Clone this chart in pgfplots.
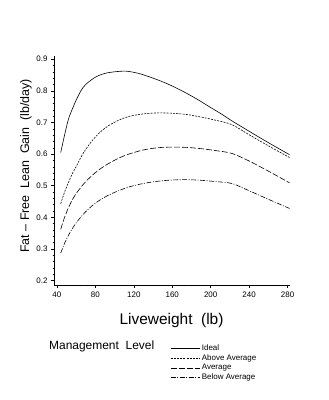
\documentclass[border=0pt]{standalone}
\usepackage{fontspec}
\setmainfont{Liberation Sans}
\usepackage{pgfplots}
\pgfplotsset{compat=1.18}
\begin{document}
\begin{tikzpicture}
\path[use as bounding box] (0,0) rectangle (329bp,400bp);
\begin{axis}[
 at={(54bp,115bp)}, anchor=south west,
 scale only axis, width=236bp, height=229bp,
 xmin=37, xmax=282.5, ymin=0.186, ymax=0.91,
 axis x line*=bottom, axis y line*=left,
 axis line style={line width=0.5pt},
 xtick={40,80,120,160,200,240,280},
 ytick={0.2,0.3,0.4,0.5,0.6,0.7,0.8,0.9},
 minor x tick num=9, minor y tick num=4,
 tick align=outside, major tick length=3bp, minor tick length=1.5bp,
 tick style={black, line width=0.4pt},
 ticklabel style={font=\fontsize{8}{9}\selectfont},
 /pgf/number format/assume math mode=true,
 yticklabel style={/pgf/number format/.cd, fixed, fixed zerofill, precision=1},
 xlabel={Liveweight\ \ (lb)},
 ylabel={Fat -- Free\ \ Lean\ \ Gain\ \ (lb/day)},
 xlabel style={font=\fontsize{15.5}{17}\selectfont, at={(axis description cs:0.498,-0.157)}, anchor=center},
 ylabel style={font=\fontsize{12.5}{14}\selectfont, at={(axis description cs:-0.08,0.52)}, rotate=0, anchor=south},
 legend style={at={(axis description cs:0.492,-0.252)}, anchor=north west, draw=none, fill=none, inner sep=0pt, font=\fontsize{8}{9}\selectfont, row sep=-1.5bp, cells={anchor=west}},
 legend image code/.code={\draw[#1] (0bp,0bp) -- (29bp,0bp);},
 every axis plot/.append style={black, line width=0.6pt},
]
\addplot[smooth, tension=0.5] coordinates {(44,0.605)(48,0.66)(52,0.71)(56,0.742)(60,0.77)(65,0.80)(70,0.82)(80,0.843)(90,0.855)(100,0.86)(112,0.862)(125,0.855)(140,0.84)(155,0.822)(170,0.80)(185,0.775)(200,0.747)(212,0.725)(222,0.705)(240,0.672)(260,0.636)(282,0.598)};
\addlegendentry{Ideal}
\addplot[smooth, tension=0.5, dash pattern=on 2bp off 1.2bp] coordinates {(44,0.443)(48,0.48)(52,0.51)(56,0.538)(60,0.56)(65,0.59)(70,0.615)(78,0.647)(86,0.672)(95,0.692)(105,0.708)(115,0.719)(130,0.727)(145,0.73)(160,0.729)(175,0.725)(190,0.717)(205,0.707)(222,0.693)(240,0.661)(260,0.626)(282,0.589)};
\addlegendentry{Above Average}
\addplot[smooth, tension=0.5, dash pattern=on 6bp off 2bp] coordinates {(44,0.362)(48,0.40)(52,0.43)(56,0.455)(60,0.475)(65,0.495)(70,0.513)(78,0.536)(86,0.555)(95,0.572)(105,0.588)(115,0.600)(130,0.613)(145,0.62)(160,0.622)(175,0.621)(190,0.617)(205,0.611)(222,0.602)(240,0.578)(260,0.546)(282,0.509)};
\addlegendentry{Average}
\addplot[smooth, tension=0.5, dash pattern=on 5bp off 1.5bp on 1bp off 1.5bp] coordinates {(44,0.287)(48,0.318)(52,0.343)(56,0.364)(60,0.382)(65,0.401)(70,0.418)(78,0.44)(86,0.457)(95,0.472)(105,0.485)(115,0.496)(130,0.507)(145,0.514)(160,0.518)(175,0.519)(190,0.517)(205,0.513)(222,0.507)(240,0.484)(260,0.457)(282,0.428)};
\addlegendentry{Below Average}
\end{axis}
\node[anchor=west, font=\fontsize{12}{13}\selectfont, inner sep=0pt] at (49bp,54bp) {Management\ \ Level};
\end{tikzpicture}
\end{document}
